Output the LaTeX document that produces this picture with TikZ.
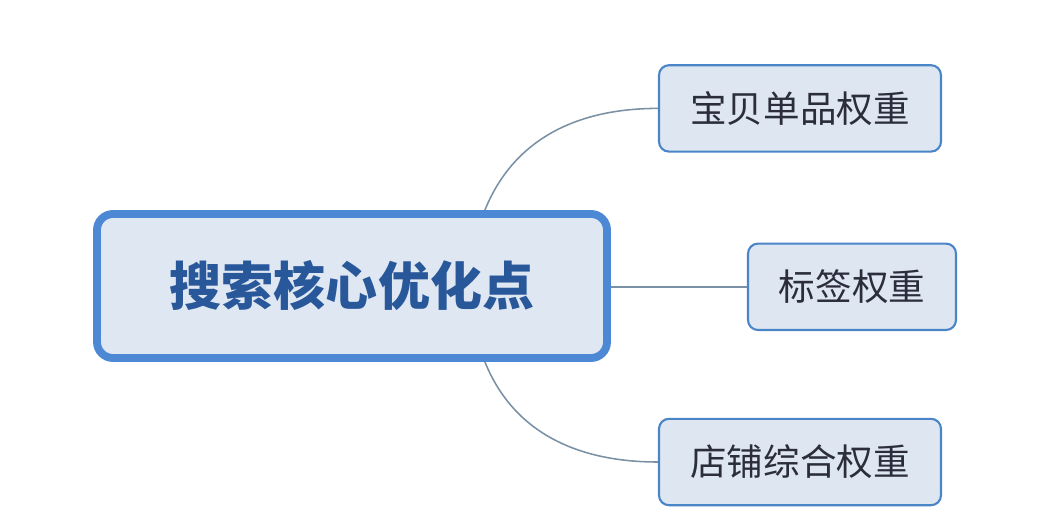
\documentclass[tikz,border=0pt]{standalone}
\usepackage{fontspec}
\newfontfamily\cjk{Noto Sans CJK SC}
\usetikzlibrary{positioning}

\definecolor{coreline}{HTML}{4C88D4}
\definecolor{corefill}{HTML}{DFE7F2}
\definecolor{coretext}{HTML}{28579A}
\definecolor{leafline}{HTML}{4A85C8}
\definecolor{leaffill}{HTML}{DEE6F1}
\definecolor{leaftext}{HTML}{2B2D3C}
\definecolor{linkline}{HTML}{7A90A4}

\tikzset{
  core/.style={draw=coreline, line width=5.6pt, fill=corefill, rounded corners=0.4cm,
    minimum width=12.75cm, minimum height=3.6cm, inner sep=0pt,
    text=coretext, font=\cjk\bfseries\fontsize{37}{40}\selectfont},
  leaf/.style={draw=leafline, line width=1.5pt, fill=leaffill, rounded corners=0.25cm,
    minimum height=2.16cm, inner sep=0pt,
    text=leaftext, font=\cjk\fontsize{26}{30}\selectfont},
  link/.style={draw=linkline, line width=1.1pt}
}

\begin{document}
\begin{tikzpicture}
\useasboundingbox [fill=white] (0,0) rectangle (26.3,-13.1);
\node[core] (core) at (8.8,-7.15) {搜索核心优化点};
\node[leaf, minimum width=7.05cm] (weight1) at (20,-2.71) {宝贝单品权重};
\node[leaf, minimum width=5.2cm] (weight2) at (21.3,-7.17) {标签权重};
\node[leaf, minimum width=7.05cm] (weight3) at (20,-11.55) {店铺综合权重};
% branch ends on the big box
\coordinate (up) at ([xshift=-3.15cm]core.north east);
\coordinate (down) at ([xshift=-3.15cm]core.south east);
\draw[link] (up) to[out=68,in=180] (weight1.west);
\draw[link] (core.east |- weight2.west) -- (weight2.west);
\draw[link] (down) to[out=-68,in=180] (weight3.west);
\end{tikzpicture}
\end{document}
